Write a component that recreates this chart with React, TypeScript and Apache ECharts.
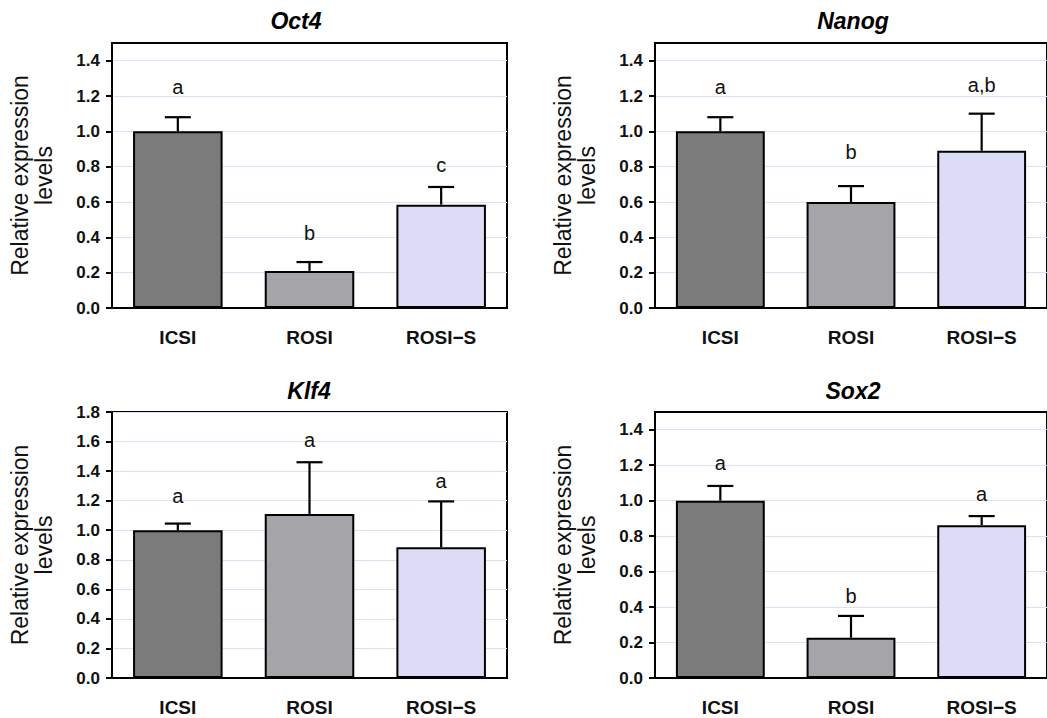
import React, { useEffect, useRef } from "react";
import * as echarts from "echarts";

const categories = ["ICSI", "ROSI", "ROSI\u2212S"];
const barColors = ["#7b7b7b", "#a5a5a9", "#dcdcf7"];

const panelTitles = ["Oct4", "Nanog", "Klf4", "Sox2"];

const oct4Means = [1.0, 0.21, 0.585];
const oct4Sem = [0.08, 0.05, 0.1];
const oct4Letters = ["a", "b", "c"];
const oct4LetterY = [1.25, 0.425, 0.81];

const nanogMeans = [1.0, 0.6, 0.89];
const nanogSem = [0.08, 0.09, 0.21];
const nanogLetters = ["a", "b", "a,b"];
const nanogLetterY = [1.25, 0.885, 1.26];

const klf4Means = [1.0, 1.11, 0.885];
const klf4Sem = [0.045, 0.35, 0.31];
const klf4Letters = ["a", "a", "a"];
const klf4LetterY = [1.23, 1.61, 1.33];

const sox2Means = [1.0, 0.227, 0.862];
const sox2Sem = [0.083, 0.123, 0.051];
const sox2Letters = ["a", "b", "a"];
const sox2LetterY = [1.21, 0.46, 1.04];

const ticksA = [0, 0.2, 0.4, 0.6, 0.8, 1.0, 1.2, 1.4];
const ticksB = [0, 0.2, 0.4, 0.6, 0.8, 1.0, 1.2, 1.4, 1.6, 1.8];
const axisMaxA = 1.5;
const axisMaxB = 1.8;

const FONT = "'Liberation Sans', Arial, Helvetica, sans-serif";

const panels = [
  { title: panelTitles[0], means: oct4Means, sem: oct4Sem, letters: oct4Letters, letterY: oct4LetterY, ticks: ticksA, max: axisMaxA },
  { title: panelTitles[1], means: nanogMeans, sem: nanogSem, letters: nanogLetters, letterY: nanogLetterY, ticks: ticksA, max: axisMaxA },
  { title: panelTitles[2], means: klf4Means, sem: klf4Sem, letters: klf4Letters, letterY: klf4LetterY, ticks: ticksB, max: axisMaxB },
  { title: panelTitles[3], means: sox2Means, sem: sox2Sem, letters: sox2Letters, letterY: sox2LetterY, ticks: ticksA, max: axisMaxA },
];

const layouts = [
  { left: 112, top: 43, width: 395, height: 265, titleX: 296, titleY: 9 },
  { left: 655, top: 43, width: 396, height: 265, titleX: 853, titleY: 9 },
  { left: 112, top: 412, width: 395, height: 266, titleX: 309, titleY: 379 },
  { left: 655, top: 412, width: 396, height: 266, titleX: 853, titleY: 379 },
];

export default function App() {
  const ref = useRef<HTMLDivElement>(null);
  useEffect(() => {
    if (!ref.current) return;
    const chart = echarts.init(ref.current, undefined, { renderer: "svg" });
    const grid: any[] = [];
    const xAxis: any[] = [];
    const yAxis: any[] = [];
    const series: any[] = [];
    const title: any[] = [];
    panels.forEach((p, i) => {
      const L = layouts[i];
      grid.push({
        left: L.left,
        top: L.top,
        width: L.width,
        height: L.height,
        show: true,
        borderColor: "#000",
        borderWidth: 2,
        backgroundColor: "#fff",
      });
      title.push({
        text: p.title,
        left: L.titleX,
        top: L.titleY,
        padding: 0,
        textAlign: "center",
        textStyle: { fontFamily: FONT, fontStyle: "italic", fontWeight: "bold", fontSize: 23, color: "#000" },
      });
      xAxis.push({
        type: "category",
        gridIndex: i,
        data: categories,
        axisLine: { lineStyle: { color: "#000", width: 2 } },
        axisTick: { alignWithLabel: true, length: 8, lineStyle: { color: "#000", width: 2 } },
        axisLabel: { fontFamily: FONT, fontWeight: "bold", fontSize: 19, color: "#111", margin: 20 },
        splitLine: { show: false },
      });
      yAxis.push({
        type: "value",
        gridIndex: i,
        min: 0,
        max: p.max,
        interval: 0.2,
        name: "Relative expression\nlevels",
        nameLocation: "middle",
        nameRotate: 90,
        nameGap: 56,
        nameTextStyle: { fontFamily: FONT, fontSize: 23, color: "#111", lineHeight: 24 },
        axisLine: { show: true, lineStyle: { color: "#000", width: 2 } },
        axisTick: { show: true, length: 6, customValues: p.ticks, lineStyle: { color: "#000", width: 2 } },
        axisLabel: {
          customValues: p.ticks,
          fontFamily: FONT,
          fontWeight: "bold",
          fontSize: 17,
          color: "#111",
          margin: 12,
          formatter: (v: number) => v.toFixed(1),
        },
        splitLine: { show: true, lineStyle: { color: "#dedef6", width: 1 } },
      });
      series.push({
        type: "bar",
        xAxisIndex: i,
        yAxisIndex: i,
        barCategoryGap: "32%",
        data: p.means.map((m, k) => ({
          value: m,
          itemStyle: { color: barColors[k], borderColor: "#000", borderWidth: 2 },
        })),
        z: 2,
      });
      series.push({
        type: "custom",
        xAxisIndex: i,
        yAxisIndex: i,
        z: 3,
        data: p.means.map((m, k) => [k, m, m + p.sem[k]]),
        renderItem: (params: any, api: any) => {
          const k = api.value(0);
          const p0 = api.coord([k, api.value(1)]);
          const p1 = api.coord([k, api.value(2)]);
          const st = { stroke: "#000", lineWidth: 2.2 };
          return {
            type: "group",
            children: [
              { type: "line", shape: { x1: p0[0], y1: p0[1], x2: p1[0], y2: p1[1] }, style: st },
              { type: "line", shape: { x1: p1[0] - 13, y1: p1[1], x2: p1[0] + 13, y2: p1[1] }, style: st },
            ],
          };
        },
      });
      series.push({
        type: "custom",
        xAxisIndex: i,
        yAxisIndex: i,
        z: 4,
        data: p.letterY.map((y, k) => [k, y, p.letters[k]]),
        renderItem: (params: any, api: any) => {
          const k = api.value(0);
          const pt = api.coord([k, api.value(1)]);
          return {
            type: "text",
            x: pt[0],
            y: pt[1],
            style: {
              text: p.letters[params.dataIndex],
              fill: "#111",
              font: `20px ${FONT}`,
              align: "center",
              verticalAlign: "middle",
            },
          };
        },
      });
    });
    chart.setOption({
      animation: false,
      backgroundColor: "#fff",
      title,
      grid,
      xAxis,
      yAxis,
      series,
    });
    return () => chart.dispose();
  }, []);
  return (
    <div style={{ position: "absolute", left: 0, top: 0, width: 1047, height: 718, overflow: "hidden" }}>
      <div ref={ref} style={{ width: 1047, height: 718 }} />
    </div>
  );
}
